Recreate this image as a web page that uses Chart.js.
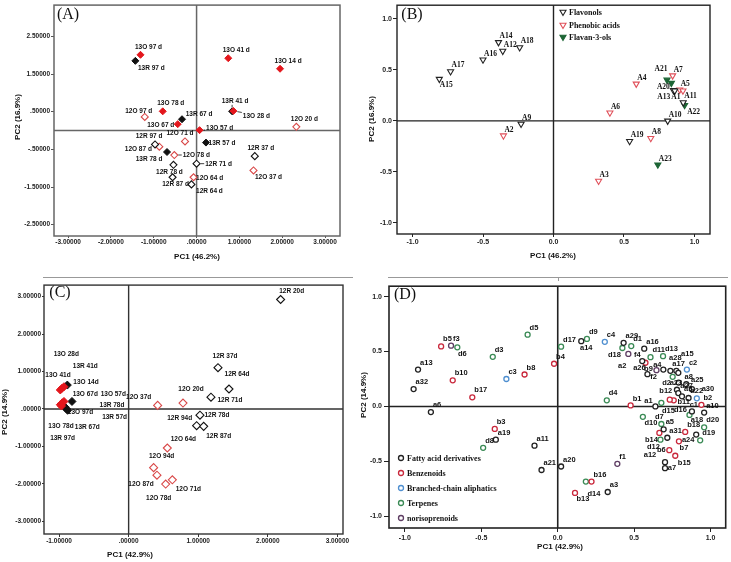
<!DOCTYPE html>
<html>
<head>
<meta charset="utf-8">
<script src="https://cdn.jsdelivr.net/npm/chart.js@4.4.1/dist/chart.umd.min.js"></script>
<style>
  body { margin: 0; background: #fff; width: 731px; height: 562px; position: relative; overflow: hidden; }
  canvas { position: absolute; }
  .sep { position: absolute; background: #999; }
</style>
</head>
<body>
<div class="sep" style="left:43px;top:277px;width:310px;height:1px"></div>
<div class="sep" style="left:388px;top:277px;width:340px;height:1px"></div>
<div class="sep" style="left:558px;top:277px;width:1px;height:4px"></div>
<canvas id="cA" width="365" height="280" style="left:0;top:0"></canvas>
<canvas id="cB" width="366" height="280" style="left:365px;top:0"></canvas>
<canvas id="cC" width="365" height="282" style="left:0;top:280px"></canvas>
<canvas id="cD" width="376" height="282" style="left:355px;top:280px"></canvas>
<script>
// ---------- (A) sample scores, volatile-free set ----------
const aNames13O = ['13O 97 d', '13O 41 d', '13O 14 d', '13O 28 d', '13O 78 d', '13O 67 d', '13O 57 d'];
const aX13O = [-1.31, 0.74, 1.95, 0.86, -0.79, -0.44, 0.07];
const aY13O = [2.01, 1.92, 1.64, 0.52, 0.51, 0.17, 0.01];
const aNames13R = ['13R 97 d', '13R 41 d', '13R 67 d', '13R 57 d', '13R 78 d'];
const aX13R = [-1.43, 0.83, -0.34, 0.22, -0.69];
const aY13R = [1.85, 0.51, 0.30, -0.32, -0.57];
const aNames12O = ['12O 20 d', '12O 97 d', '12O 71 d', '12O 87 d', '12O 78 d', '12O 37 d', '12O 64 d'];
const aX12O = [2.33, -1.21, -0.27, -0.87, -0.52, 1.33, -0.07];
const aY12O = [0.10, 0.36, -0.29, -0.43, -0.65, -1.06, -1.24];
const aNames12R = ['12R 97 d', '12R 37 d', '12R 71 d', '12R 78 d', '12R 87 d', '12R 64 d'];
const aX12R = [-0.97, 1.36, 0.00, -0.54, -0.56, -0.12];
const aY12R = [-0.37, -0.68, -0.88, -0.91, -1.24, -1.43];
const aTicksX = [-3, -2, -1, 0, 1, 2, 3];
const aTicksY = [-2.5, -1.5, -0.5, 0.5, 1.5, 2.5];

// ---------- (B) loadings ----------
const bNamesFlavonols = ['A14', 'A12', 'A18', 'A16', 'A17', 'A15', 'A9', 'A10', 'A19', 'A20', 'A13', 'A11'];
const bXFlavonols = [-0.39, -0.36, -0.24, -0.50, -0.73, -0.81, -0.23, 0.81, 0.54, 0.85, 0.86, 0.92];
const bYFlavonols = [0.77, 0.685, 0.72, 0.60, 0.485, 0.41, -0.03, 0.0, -0.20, 0.30, 0.295, 0.18];
const bNamesPhenolic = ['A2', 'A3', 'A4', 'A5', 'A1', 'A6', 'A7', 'A8'];
const bXPhenolic = [-0.355, 0.32, 0.587, 0.895, 0.918, 0.40, 0.845, 0.69];
const bYPhenolic = [-0.145, -0.59, 0.363, 0.305, 0.296, 0.08, 0.444, -0.17];
const bNamesFlavan = ['A21', '', 'A22', 'A23'];
const bXFlavan = [0.805, 0.836, 0.93, 0.74];
const bYFlavan = [0.402, 0.370, 0.154, -0.43];
const bTicks = [-1, -0.5, 0, 0.5, 1];

// ---------- (C) sample scores, volatile set ----------
const cNames13O = ['13O 28d', '13O 41d', '13O 14d', '13O 67d', '13O 57d', '13O 78d', '13O 97d'];
const cX13O = [-0.982, -0.958, -0.929, -0.982, -0.953, -0.929, -0.965];
const cY13O = [0.508, 0.552, 0.595, 0.114, 0.166, 0.201, 0.08];
const cNames13R = ['13R 41d', '13R 78d', '13R 57d', '13R 67d', '13R 97d'];
const cX13R = [-0.881, -0.814, -0.920, -0.896, -0.877];
const cY13R = [0.639, 0.201, 0.061, 0.009, -0.035];
const cNames12O = ['12O 20d', '12O 37d', '12O 64d', '12O 94d', '12O 87d', '12O 78d', '12O 71d'];
const cX12O = [0.781, 0.417, 0.556, 0.359, 0.407, 0.532, 0.628];
const cY12O = [0.158, 0.096, -1.042, -1.567, -1.769, -2.005, -1.891];
const cNames12R = ['12R 20d', '12R 37d', '12R 64d', '12R 71d', '12R 78d', '12R 94d', '12R 87d'];
const cX12R = [2.184, 1.284, 1.442, 1.183, 1.025, 0.977, 1.078];
const cY12R = [2.925, 1.103, 0.534, 0.315, -0.166, -0.447, -0.464];
const cTicksX = [-1, 0, 1, 2, 3];
const cTicksY = [-3, -2, -1, 0, 1, 2, 3];

// ---------- (D) loadings ----------
const dNamesFatty = ['a13', 'a32', 'a6', 'a19', 'a11', 'a21', 'a20', 'a3', 'a14', 'a29', 'a16', 'a2', 'a26', 'a4', 'a17', 'a28',
  'a15', 'a8', 'a25', 'a23', 'a30', 'a27', 'a9', 'a22', 'a1', 'a10', 'a18', 'a5', 'a31', 'a24', 'a12', 'a7'];
const dXFatty = [-0.914, -0.943, -0.830, -0.405, -0.152, -0.106, 0.022, 0.327, 0.154, 0.431, 0.566, 0.553, 0.587, 0.691, 0.737, 0.776,
  0.789, 0.791, 0.841, 0.780, 0.878, 0.789, 0.813, 0.856, 0.639, 0.958, 0.878, 0.693, 0.717, 0.906, 0.702, 0.702];
const dYFatty = [0.336, 0.158, -0.051, -0.303, -0.357, -0.579, -0.547, -0.779, 0.594, 0.579, 0.526, 0.413, 0.294, 0.336, 0.324, 0.324,
  0.306, 0.217, 0.202, 0.152, 0.157, 0.122, 0.092, 0.077, 0.000, -0.056, -0.045, -0.208, -0.285, -0.256, -0.508, -0.562];
const dNamesBenz = ['b1', 'b2', 'b3', 'b4', 'b5', 'b6', 'b7', 'b8', 'b9', 'b10', 'b11', 'b12', 'b13', 'b14', 'b15', 'b16', 'b17', 'b18'];
const dXBenz = [0.477, 0.940, -0.412, -0.024, -0.763, 0.730, 0.793, -0.217, 0.574, -0.687, 0.759, 0.733, 0.113, 0.665, 0.769, 0.221, -0.559, 0.834];
const dYBenz = [0.009, 0.015, -0.205, 0.389, 0.547, -0.398, -0.318, 0.291, 0.398, 0.238, 0.056, 0.062, -0.788, -0.241, -0.449, -0.684, 0.083, -0.232];
const dNamesBranched = ['c1', 'c2', 'c3', 'c4'];
const dXBranched = [0.910, 0.845, -0.336, 0.308];
const dYBranched = [0.074, 0.336, 0.250, 0.588];
const dNamesTerp = ['d1', 'd2', 'd3', 'd4', 'd5', 'd6', 'd7', 'd8', 'd9', 'd10', 'd11', 'd12', 'd13', 'd14', 'd15', 'd16', 'd17', 'd18', 'd19', 'd20'];
const dXTerp = [0.481, 0.752, -0.425, 0.321, -0.197, -0.657, 0.678, -0.488, 0.191, 0.557, 0.607, 0.672, 0.689, 0.184, 0.678, 0.862, 0.022, 0.423, 0.932, 0.958];
const dYTerp = [0.550, 0.270, 0.452, 0.056, 0.654, 0.538, -0.160, -0.377, 0.615, -0.095, 0.449, -0.303, 0.458, -0.684, 0.033, -0.077, 0.544, 0.532, -0.309, -0.190];
const dNamesNor = ['f1', 'f2', 'f3', 'f4'];
const dXNor = [0.390, 0.646, -0.698, 0.462];
const dYNor = [-0.523, 0.330, 0.553, 0.478];

// label placement (px offsets of label centre from the point)
const aLabelPos = {
  '13O 97 d': [8, -8], '13R 97 d': [16, 7], '13O 41 d': [8, -8], '13O 14 d': [8, -8], '13R 41 d': [3, -10],
  '13O 28 d': [23, 5], '12O 20 d': [8, -8], '13O 78 d': [8, -8], '12O 97 d': [-6, -6], '13R 67 d': [17, -5],
  '13O 67 d': [-17, 1], '13O 57 d': [20, -2], '12O 71 d': [-5, -8], '13R 57 d': [16, 1], '12R 97 d': [-6, -8],
  '12O 87 d': [-21, 2], '13R 78 d': [-18, 7], '12O 78 d': [22, 0], '12R 37 d': [6, -8], '12R 71 d': [22, 1],
  '12R 78 d': [-4, 7], '12O 37 d': [15, 7], '12O 64 d': [16, 1], '12R 87 d': [3, 7], '12R 64 d': [18, 7]
};
const aLeaders = ['13R 41 d', '13O 28 d', '13R 67 d', '12R 97 d', '12O 78 d', '12R 71 d', '13O 57 d'];
const bLabelPos = { 'A15': [7, 6], 'A21': [-6, -11], 'A20': [-10, -3], 'A13': [-11, 6], 'A1': [-7, 6], 'A22': [9, 7] };
const cLabelPos = {
  '13O 28d': [6, -36], '13O 41d': [-4, -13], '13O 14d': [22, -5], '13R 41d': [18, -19], '13O 67d': [25, -11],
  '13O 57d': [51, -9], '13O 78d': [-3, 25], '13O 97d': [19, 6], '13R 78d': [40, 4], '13R 57d': [50, 10],
  '13R 67d': [21, 19], '13R 97d': [-5, 28],
  '12R 20d': [11, -8], '12R 37d': [7, -12], '12R 64d': [8, -15], '12R 71d': [19, 3], '12R 78d': [17, 0],
  '12R 94d': [-17, -8], '12R 87d': [15, 10], '12O 20d': [8, -14], '12O 37d': [-19, -8], '12O 64d': [16, -9],
  '12O 94d': [8, -11], '12O 87d': [-16, 9], '12O 78d': [-7, 14], '12O 71d': [16, 9]
};
const dLabelPos = {
  'd6': [5, 7], 'a14': [5, 7], 'd18': [-8, 7], 'f4': [9, 1], 'd14': [8, 12], 'b13': [8, 6], 'a12': [-15, -7],
  'a7': [7, 0], 'b15': [9, 7], 'b6': [-8, 0], 'b7': [5, 7], 'd12': [-7, 7], 'b14': [-8, 7], 'a18': [5, 9],
  'c1': [-3, 7], 'd16': [-9, -5], 'd15': [7, 8], 'd10': [8, 6], 'd7': [-2, -7], 'a1': [-7, -6], 'a24': [-8, 5],
  'b12': [-4, -9], 'b11': [10, 2], 'd2': [-6, 6], 'a23': [-1, -7], 'a8': [10, -6], 'a25': [11, -4], 'a30': [16, 0],
  'a28': [-1, -13], 'a15': [9, -19], 'a4': [-6, -5], 'a26': [-8, -6], 'b9': [3, 6], 'f2': [-3, 7], 'a2': [-20, 5]
};

function spss(v) {
  let s = Math.abs(v).toFixed(5);
  if (s.startsWith('0')) s = s.slice(1);
  return (v < 0 ? '-' : '') + s;
}
function oneDec(v) { return v.toFixed(1); }

function series(label, names, xs, ys, style) {
  return Object.assign({ label, names, data: xs.map((v, i) => ({ x: v, y: ys[i] })) }, style);
}

function axis(min, max, ticks, fmt, size, tickLen, pad, col, fontSize) {
  return {
    type: 'linear', min, max,
    afterBuildTicks: s => { s.ticks = ticks.map(v => ({ value: v })); },
    afterFit: s => { if (s.isHorizontal()) s.height = size; else s.width = size; },
    ticks: { autoSkip: false, maxRotation: 0, padding: pad, color: '#222',
      font: { family: 'Arial', size: fontSize, weight: 'bold' }, callback: v => fmt(v) },
    grid: { display: true, drawOnChartArea: false, drawTicks: true, tickLength: tickLen, tickColor: col, lineWidth: 1 },
    border: { display: false }
  };
}

const panelDecor = {
  id: 'panelDecor',
  beforeDatasetsDraw(chart, args, o) {
    const { ctx, chartArea: a, scales } = chart;
    const zx = scales.x.getPixelForValue(0), zy = scales.y.getPixelForValue(0);
    ctx.save();
    ctx.strokeStyle = o.lineColor;
    ctx.lineWidth = o.lineWidth;
    ctx.beginPath();
    ctx.moveTo(zx, a.top); ctx.lineTo(zx, a.bottom);
    ctx.moveTo(a.left, zy); ctx.lineTo(a.right, zy);
    ctx.stroke();
    ctx.strokeRect(a.left, a.top, a.right - a.left, a.bottom - a.top);
    ctx.restore();
  },
  afterDatasetsDraw(chart, args, o) {
    const { ctx } = chart;
    ctx.save();
    ctx.fillStyle = '#111';
    ctx.strokeStyle = '#111';
    ctx.lineWidth = 0.8;
    ctx.font = o.labelFont;
    ctx.textBaseline = 'middle';
    ctx.textAlign = 'center';
    chart.data.datasets.forEach((ds, di) => {
      chart.getDatasetMeta(di).data.forEach((pt, i) => {
        const name = ds.names[i];
        if (!name) return;
        const w = ctx.measureText(name).width;
        const off = o.offsets[name];
        let cx, cy;
        if (off) { cx = pt.x + off[0]; cy = pt.y + off[1]; }
        else { cx = pt.x + o.defaultOffset[0] + w / 2; cy = pt.y + o.defaultOffset[1]; }
        ctx.fillText(name, cx, cy);
        if (o.leaders && o.leaders.includes(name)) {
          const nx = Math.min(Math.max(pt.x, cx - w / 2 - 1), cx + w / 2 + 1);
          const ny = Math.min(Math.max(pt.y, cy - 3.5), cy + 3.5);
          const dx = nx - pt.x, dy = ny - pt.y, len = Math.hypot(dx, dy);
          if (len > 5) {
            ctx.beginPath();
            ctx.moveTo(pt.x + dx / len * 4, pt.y + dy / len * 4);
            ctx.lineTo(nx, ny);
            ctx.stroke();
          }
        }
      });
    });
    // legend inside the plot
    if (o.legend) {
      const L = o.legend;
      chart.data.datasets.forEach((ds, di) => {
        const y = L.rows[di];
        ctx.fillStyle = ds.backgroundColor;
        ctx.strokeStyle = ds.borderColor;
        ctx.lineWidth = ds.borderWidth;
        Chart.helpers.drawPoint(ctx, { pointStyle: ds.pointStyle, rotation: ds.pointRotation || 0,
          radius: ds.pointRadius, borderWidth: ds.borderWidth }, L.x, y);
        ctx.fillStyle = '#111';
        ctx.font = L.font;
        ctx.textAlign = 'left';
        ctx.fillText(ds.label, L.tx, y + 0.5);
      });
    }
    // panel letter and axis titles
    o.texts.forEach(t => {
      ctx.save();
      ctx.fillStyle = '#111';
      ctx.font = t.font;
      ctx.textAlign = 'center';
      ctx.textBaseline = 'middle';
      ctx.translate(t.x, t.y);
      if (t.rot) ctx.rotate(t.rot);
      ctx.fillText(t.text, 0, 0);
      ctx.restore();
    });
    ctx.restore();
  }
};

function makePanel(id, cfg) {
  return new Chart(document.getElementById(id), {
    type: 'scatter',
    data: { datasets: cfg.datasets },
    options: {
      responsive: false, animation: false, events: [],
      layout: { padding: cfg.padding },
      scales: { x: cfg.x, y: cfg.y },
      plugins: { legend: { display: false }, tooltip: { enabled: false }, panelDecor: cfg.decor }
    },
    plugins: [panelDecor]
  });
}

const titleFont = 'bold 8px Arial';
const letterFont = '16px "Liberation Serif"';
const RED = '#e3161c', RED_H = '#d94848', BLACK = '#111';

// (A)
makePanel('cA', {
  padding: { left: 0, top: 1, right: 25, bottom: 0 },
  x: axis(-3.33, 3.35, aTicksX, spss, 44, 2, 0, '#555', 6.5),
  y: axis(-2.8, 3.33, aTicksY, spss, 54, 3, 1, '#555', 6.5),
  datasets: [
    series('12R', aNames12R, aX12R, aY12R, { pointStyle: 'rectRot', pointRadius: 3.5, backgroundColor: '#fff', borderColor: BLACK, borderWidth: 1.1 }),
    series('12O', aNames12O, aX12O, aY12O, { pointStyle: 'rectRot', pointRadius: 3.5, backgroundColor: '#fff', borderColor: RED_H, borderWidth: 1.1 }),
    series('13O', aNames13O, aX13O, aY13O, { pointStyle: 'rectRot', pointRadius: 3.5, backgroundColor: RED, borderColor: RED, borderWidth: 1 }),
    series('13R', aNames13R, aX13R, aY13R, { pointStyle: 'rectRot', pointRadius: 3.5, backgroundColor: BLACK, borderColor: BLACK, borderWidth: 1 })
  ],
  decor: {
    lineColor: '#666', lineWidth: 1.5, labelFont: 'bold 6.5px Arial', offsets: aLabelPos, defaultOffset: [2, -7], leaders: aLeaders,
    texts: [
      { text: '(A)', x: 68, y: 15, font: letterFont },
      { text: 'PC1 (46.2%)', x: 197, y: 257, font: titleFont },
      { text: 'PC2 (16.9%)', x: 18, y: 117, font: titleFont, rot: -Math.PI / 2 }
    ]
  }
});

// (B)
makePanel('cB', {
  padding: { left: 0, top: 1, right: 21, bottom: 0 },
  x: axis(-1.11, 1.11, bTicks, oneDec, 46, 3, 1, '#222', 7),
  y: axis(-1.11, 1.135, bTicks, oneDec, 32, 4, 1, '#222', 7),
  datasets: [
    series('Flavonols', bNamesFlavonols, bXFlavonols, bYFlavonols, { pointStyle: 'triangle', pointRotation: 180, pointRadius: 3.5, backgroundColor: '#fff', borderColor: '#222', borderWidth: 1.1 }),
    series('Phenobic acids', bNamesPhenolic, bXPhenolic, bYPhenolic, { pointStyle: 'triangle', pointRotation: 180, pointRadius: 3.5, backgroundColor: '#fff', borderColor: '#e0505a', borderWidth: 1.1 }),
    series('Flavan-3-ols', bNamesFlavan, bXFlavan, bYFlavan, { pointStyle: 'triangle', pointRotation: 180, pointRadius: 3.5, backgroundColor: '#1d6535', borderColor: '#1d6535', borderWidth: 1.1 })
  ],
  decor: {
    lineColor: '#222', lineWidth: 1.4, labelFont: 'bold 7.5px "Liberation Serif"', offsets: bLabelPos, defaultOffset: [1, -6],
    legend: { x: 198, tx: 204, rows: [12, 25, 37], font: 'bold 8px "Liberation Serif"' },
    texts: [
      { text: '(B)', x: 47, y: 15, font: letterFont },
      { text: 'PC1 (46.2%)', x: 188, y: 256, font: titleFont },
      { text: 'PC2 (16.9%)', x: 7, y: 119, font: titleFont, rot: -Math.PI / 2 }
    ]
  }
});

// (C)
makePanel('cC', {
  padding: { left: 0, top: 1, right: 22, bottom: 0 },
  x: axis(-1.216, 3.08, cTicksX, spss, 28, 3, 0, '#333', 6.5),
  y: axis(-3.34, 3.31, cTicksY, spss, 44, 2, 1, '#333', 6.5),
  datasets: [
    series('12R', cNames12R, cX12R, cY12R, { pointStyle: 'rectRot', pointRadius: 4, backgroundColor: '#fff', borderColor: BLACK, borderWidth: 1.1 }),
    series('12O', cNames12O, cX12O, cY12O, { pointStyle: 'rectRot', pointRadius: 4, backgroundColor: '#fff', borderColor: RED_H, borderWidth: 1.1 }),
    series('13O', cNames13O, cX13O, cY13O, { pointStyle: 'rectRot', pointRadius: 4, backgroundColor: RED, borderColor: RED, borderWidth: 1 }),
    series('13R', cNames13R, cX13R, cY13R, { pointStyle: 'rectRot', pointRadius: 4, backgroundColor: BLACK, borderColor: BLACK, borderWidth: 1 })
  ],
  decor: {
    lineColor: '#333', lineWidth: 1.4, labelFont: 'bold 6.5px Arial', offsets: cLabelPos, defaultOffset: [2, -7],
    texts: [
      { text: '(C)', x: 60, y: 13, font: letterFont },
      { text: 'PC1 (42.9%)', x: 130, y: 275, font: titleFont },
      { text: 'PC2 (14.9%)', x: 5, y: 132, font: titleFont, rot: -Math.PI / 2 }
    ]
  }
});

// (D)
const dStyle = c => ({ pointStyle: 'circle', pointRadius: 2.5, backgroundColor: '#fff', borderColor: c, borderWidth: 1.3 });
makePanel('cD', {
  padding: { left: 0, top: 1, right: 3, bottom: 0 },
  x: axis(-1.104, 1.099, bTicks, oneDec, 34, 4, 2, '#222', 7),
  y: axis(-1.107, 1.095, bTicks, oneDec, 34, 5, 2, '#222', 7),
  datasets: [
    series('Fatty acid derivatives', dNamesFatty, dXFatty, dYFatty, dStyle('#222')),
    series('Benzenoids', dNamesBenz, dXBenz, dYBenz, dStyle('#c9283c')),
    series('Branched-chain aliphatics', dNamesBranched, dXBranched, dYBranched, dStyle('#4f8fd0')),
    series('Terpenes', dNamesTerp, dXTerp, dYTerp, dStyle('#3a8a55')),
    series('norisoprenoids', dNamesNor, dXNor, dYNor, dStyle('#5e3d63'))
  ],
  decor: {
    lineColor: '#222', lineWidth: 1.6, labelFont: 'bold 7.5px Arial', offsets: dLabelPos, defaultOffset: [2, -7],
    legend: { x: 46, tx: 52, rows: [178, 193, 208, 223, 238], font: 'bold 8px "Liberation Serif"' },
    texts: [
      { text: '(D)', x: 50, y: 15, font: letterFont },
      { text: 'PC1 (42.9%)', x: 205, y: 267, font: titleFont },
      { text: 'PC2 (14.9%)', x: 9, y: 115, font: titleFont, rot: -Math.PI / 2 }
    ]
  }
});
</script>
</body>
</html>
